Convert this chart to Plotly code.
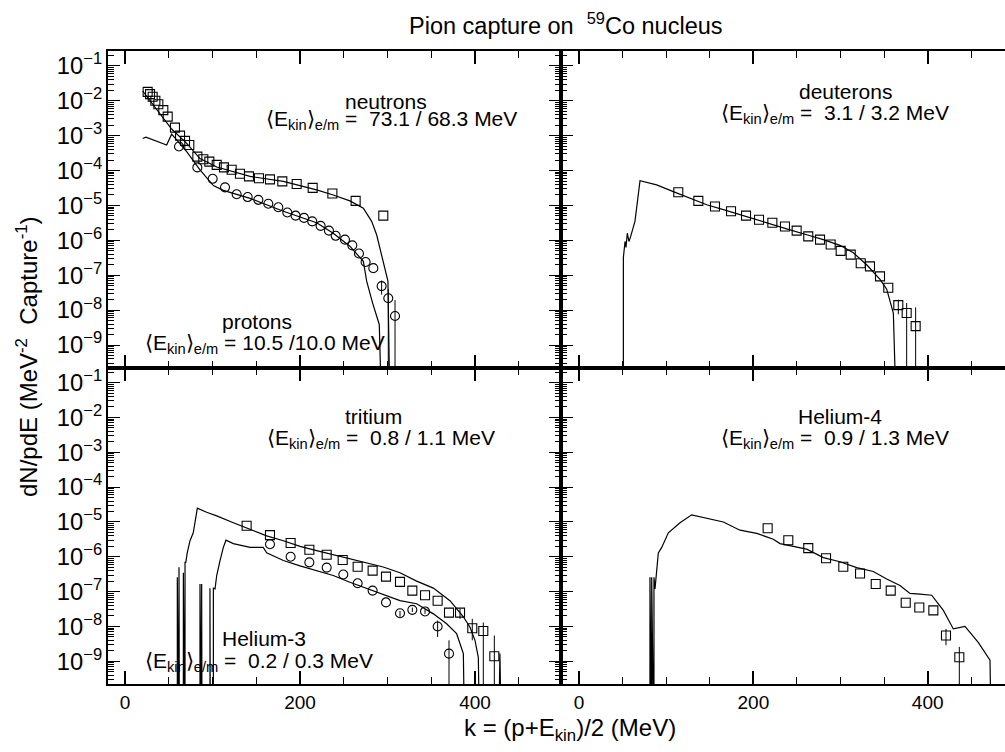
import plotly.graph_objects as go

W, H = 1005, 752
LOW = 1e-12  # stands for "below the axis" (line / error bar runs off the bottom)

# ---------------- data ----------------
# neutrons (top-left, squares) + MC
n_x = [25.9, 28.6, 31.6, 34.7, 38.1, 43.8, 48.8, 57.1, 62.9, 68.6, 73.5, 82.7, 89.5, 96.4,
       104.8, 113.1, 121.9, 131.4, 141.7, 153.1, 165.7, 179.8, 196.2, 214.5, 237.0, 263.6, 295.2]
n_y = [1.8e-2, 1.55e-2, 1.3e-2, 1.0e-2, 7.9e-3, 5.4e-3, 3.5e-3, 1.7e-3, 1.0e-3, 7.1e-4, 5.4e-4,
       2.5e-4, 2.1e-4, 1.8e-4, 1.45e-4, 1.23e-4, 1.05e-4, 8.1e-5, 6.8e-5, 6.0e-5, 5.6e-5, 4.9e-5,
       4.1e-5, 3.2e-5, 2.2e-5, 1.35e-5, 5.1e-6]
n_mc_x = [20.2, 53.3, 70.5, 85.7, 104.8, 142.9, 181.0, 219.0, 238.0, 257.0, 272.4, 281.9, 287.6,
          293.3, 299.0, 300.5, 303.5]
n_mc_y = [1.9e-2, 1.55e-3, 6.0e-4, 2.2e-4, 1.26e-4, 6.8e-5, 4.9e-5, 2.8e-5, 2.0e-5, 1.35e-5,
          8.3e-6, 3.5e-6, 1.45e-6, 3.9e-7, 1.05e-7, 6.8e-8, LOW]

# protons (top-left, circles) + MC
p_x = [61.7, 82.7, 100.2, 114.3, 127.6, 140.2, 152.4, 163.8, 175.2, 185.5, 195.0, 204.6, 214.0,
       223.6, 233.1, 240.8, 251.4, 259.8, 267.4, 275.0, 283.8, 293.3, 300.9, 308.6]
p_y = [4.9e-4, 1.23e-4, 5.8e-5, 3.3e-5, 2.1e-5, 1.74e-5, 1.45e-5, 1.12e-5, 8.9e-6, 6.3e-6, 5.1e-6,
       4.4e-6, 3.5e-6, 2.6e-6, 1.9e-6, 1.35e-6, 1.05e-6, 7.2e-7, 4.2e-7, 2.4e-7, 1.6e-7, 4.9e-8,
       2.2e-8, 6.8e-9]
p_hi = [None] * 21 + [7.1e-8, 4.0e-8, 1.95e-8]
p_lo = [None] * 21 + [2.8e-8, LOW, LOW]
p_mc_x = [20.2, 24.0, 47.6, 53.3, 70.5, 85.7, 101.0, 112.4, 142.9, 181.0, 219.0, 238.0, 257.0,
          272.4, 276.2, 283.0, 290.6, 294.5]
p_mc_y = [8.3e-4, 9.1e-4, 5.4e-4, 1.1e-3, 3.5e-4, 1.05e-4, 3.7e-5, 2.7e-5, 1.6e-5, 6.8e-6,
          3.2e-6, 1.6e-6, 6.8e-7, 2.5e-7, 6.8e-8, 1.6e-8, 3.9e-9, LOW]

# deuterons (top-right)
d_x = [113.9, 136.9, 156.0, 174.4, 191.6, 206.5, 221.8, 236.3, 249.7, 263.0, 276.5, 288.7, 300.2,
       311.7, 323.2, 333.8, 345.3, 354.8, 366.3, 375.9, 386.2]
d_y = [2.4e-5, 1.35e-5, 9.3e-6, 6.8e-6, 5.1e-6, 3.9e-6, 3.2e-6, 2.5e-6, 1.9e-6, 1.3e-6, 1.05e-6,
       7.6e-7, 5.0e-7, 3.9e-7, 2.2e-7, 1.8e-7, 9.3e-8, 4.4e-8, 1.4e-8, 8.3e-9, 3.5e-9]
d_hi = [None] * 18 + [2.0e-8, 1.6e-8, 1.2e-8]
d_lo = [None] * 18 + [7.6e-9, LOW, LOW]
d_mc_x = [50.9, 50.9, 52.8, 53.9, 55.4, 57.3, 59.3, 62.3, 64.2, 70.0, 89.1, 108.2, 127.3, 146.5,
          165.6, 184.7, 203.9, 222.9, 242.0, 261.2, 280.3, 299.4, 314.7, 330.0, 345.3, 353.0,
          360.6, 365.2]
d_mc_y = [LOW, 3.2e-7, 9.3e-7, 6.3e-7, 1.6e-6, 9.3e-7, 1.3e-6, 2.2e-6, 3.5e-6, 5.1e-5, 3.9e-5,
          2.5e-5, 1.6e-5, 1.05e-5, 7.6e-6, 5.4e-6, 3.9e-6, 2.8e-6, 2.0e-6, 1.45e-6, 1.05e-6,
          7.2e-7, 4.4e-7, 2.0e-7, 7.6e-8, 4.0e-8, 8.3e-9, LOW]

# tritium (bottom-left, squares) + MC
t_x = [139.0, 165.7, 189.3, 210.7, 230.5, 248.8, 265.9, 283.0, 298.3, 314.3, 328.4, 342.9, 357.3,
       370.3, 382.9, 396.9, 409.5, 422.1]
t_y = [7.8e-6, 4.2e-6, 2.5e-6, 1.6e-6, 1.15e-6, 8.1e-7, 5.2e-7, 4.0e-7, 2.7e-7, 1.9e-7, 1.07e-7,
       7.9e-8, 5.5e-8, 2.5e-8, 2.5e-8, 8.9e-9, 7.4e-9, 1.4e-9]
t_hi = [None] * 14 + [3.2e-8, 1.66e-8, 1.3e-8, 5.5e-9]
t_lo = [None] * 14 + [1.66e-8, 4.0e-9, LOW, LOW]
t_mc_x = [59.8, 59.8, 60.3, 61.7, 61.7, 62.2, 66.7, 66.7, 67.2, 68.6, 68.6, 69.5, 71.0, 74.3,
          78.0, 82.7, 93.3, 104.8, 123.8, 142.9, 161.9, 181.0, 200.0, 219.0, 238.0, 257.0, 276.0,
          295.2, 314.3, 333.3, 352.4, 371.4, 386.7, 394.3, 400.0, 403.8, 405.7, 426.5, 428.5, 430.5]
t_mc_y = [LOW, 2.6e-7, LOW, LOW, 5.0e-7, LOW, LOW, 3.5e-7, LOW, LOW, 6.9e-7, 6.9e-7, 1.26e-6,
          2.9e-6, 4.9e-6, 2.5e-5, 1.9e-5, 1.5e-5, 9.5e-6, 6.2e-6, 4.0e-6, 2.9e-6, 2.0e-6, 1.5e-6,
          1.15e-6, 8.9e-7, 6.9e-7, 5.1e-7, 3.5e-7, 2.0e-7, 1.26e-7, 5.5e-8, 1.9e-8, 9.5e-9,
          4.0e-9, 1.3e-9, LOW, LOW, 1.66e-9, LOW]

# helium-3 (bottom-left, circles) + MC
h3_x = [165.7, 189.3, 210.7, 230.5, 249.5, 265.9, 283.0, 298.3, 314.3, 328.4, 342.9, 357.3, 370.3]
h3_y = [2.3e-6, 1.0e-6, 6.9e-7, 4.9e-7, 3.1e-7, 1.74e-7, 1.07e-7, 4.9e-8, 2.4e-8, 3.0e-8, 2.7e-8,
        1.0e-8, 1.66e-9]
h3_hi = [None] * 8 + [2.8e-8, 3.5e-8, 3.1e-8, 1.48e-8, 4.0e-9]
h3_lo = [None] * 8 + [1.9e-8, 2.6e-8, 2.3e-8, 5.0e-9, LOW]
h3_mc_x = [85.7, 85.7, 86.2, 87.6, 87.6, 88.1, 97.1, 97.1, 97.6, 101.0, 101.0, 102.9, 104.8, 108.6,
           112.4, 115.4, 123.8, 142.9, 158.0, 161.9, 181.0, 200.0, 219.0, 238.0, 257.0, 276.0,
           295.2, 314.3, 333.3, 352.4, 367.6, 379.0, 386.7, 388.6]
h3_mc_y = [LOW, 1.66e-7, LOW, LOW, 1.66e-7, LOW, LOW, 1.26e-7, LOW, LOW, 1.26e-7, 1.2e-7, 2.9e-7,
           7.8e-7, 1.86e-6, 3.0e-6, 2.4e-6, 1.86e-6, 1.86e-6, 1.3e-6, 7.8e-7, 5.5e-7, 4.0e-7,
           2.9e-7, 1.86e-7, 1.26e-7, 8.5e-8, 5.5e-8, 4.5e-8, 2.3e-8, 1.2e-8, 6.2e-9, 1.66e-9, LOW]

# helium-4 (bottom-right)
a_x = [216.4, 240.1, 263.0, 283.4, 303.2, 322.4, 340.4, 357.6, 374.8, 390.4, 406.5, 421.0, 436.3]
a_y = [6.6e-6, 3.0e-6, 1.78e-6, 9.1e-7, 5.2e-7, 3.3e-7, 1.66e-7, 1.07e-7, 4.8e-8, 3.5e-8, 2.9e-8,
       5.5e-9, 1.3e-9]
a_hi = [None] * 11 + [8.5e-9, 2.6e-9]
a_lo = [None] * 11 + [2.9e-9, LOW]
a_mc_x = [81.4, 81.4, 81.9, 83.4, 83.4, 83.9, 86.0, 86.0, 87.2, 91.0, 94.9, 102.5, 115.9, 129.3,
          146.5, 165.6, 184.7, 203.9, 222.9, 230.6, 261.2, 280.3, 299.4, 318.6, 337.6, 353.0,
          368.2, 379.7, 391.2, 404.6, 418.0, 429.4, 442.8, 458.0, 471.5, 473.4]
a_mc_y = [LOW, 2.6e-7, LOW, LOW, 2.6e-7, LOW, LOW, 2.6e-7, 1.2e-7, 1.3e-6, 1.86e-6, 4.9e-6,
          9.5e-6, 1.6e-5, 1.3e-5, 1.0e-5, 5.8e-6, 4.7e-6, 3.2e-6, 2.4e-6, 1.66e-6, 9.5e-7,
          7.2e-7, 4.9e-7, 3.8e-7, 2.3e-7, 1.5e-7, 8.9e-8, 8.5e-8, 7.9e-8, 2.9e-8, 8.5e-9,
          1.0e-8, 3.5e-9, 1.07e-9, LOW]

x_ticks = [0, 200, 400]
x_tick_text = ["0", "200", "400"]

# ---------------- figure ----------------
FONT = "Liberation Sans, Arial, Helvetica, sans-serif"
fig = go.Figure()


def errs(y, hi, lo):
    plus = [(h - v) if h is not None else 0 for v, h in zip(y, hi)]
    minus = [(v - l) if l is not None else 0 for v, l in zip(y, lo)]
    return dict(type="data", symmetric=False, array=plus, arrayminus=minus,
                color="black", thickness=1, width=0)


def line(x, y, ax):
    fig.add_trace(go.Scatter(x=x, y=y, mode="lines", line=dict(color="black", width=1.2),
                             xaxis="x" + ax, yaxis="y" + ax, showlegend=False,
                             hoverinfo="skip"))


def pts(x, y, sym, ax, hi=None, lo=None):
    kw = {}
    if hi is not None:
        kw["error_y"] = errs(y, hi, lo)
    fig.add_trace(go.Scatter(x=x, y=y, mode="markers",
                             marker=dict(symbol=sym, size=9, color="black",
                                         line=dict(color="black", width=1.1)),
                             xaxis="x" + ax, yaxis="y" + ax, showlegend=False,
                             cliponaxis=True, **kw))


line(n_mc_x, n_mc_y, "")
line(p_mc_x, p_mc_y, "")
pts(n_x, n_y, "square-open", "")
pts(p_x, p_y, "circle-open", "", p_hi, p_lo)

line(d_mc_x, d_mc_y, "2")
pts(d_x, d_y, "square-open", "2", d_hi, d_lo)

line(t_mc_x, t_mc_y, "3")
line(h3_mc_x, h3_mc_y, "3")
pts(t_x, t_y, "square-open", "3", t_hi, t_lo)
pts(h3_x, h3_y, "circle-open", "3", h3_hi, h3_lo)

line(a_mc_x, a_mc_y, "4")
pts(a_x, a_y, "square-open", "4", a_hi, a_lo)

XL0, XMID, XR = 108 / W, 561 / W, 1.0
YT, YMID, YB = 1 - 49.3 / H, 1 - 367 / H, 1 - 684 / H
XR_LEFT = [-19.43, 498.3]
XR_RIGHT = [-20.65, 488.7]
YR = [-9.657, -0.58]


def xax(dom, rng, labels, anchor):
    return dict(domain=dom, range=rng, anchor=anchor, showgrid=False, zeroline=False,
                showline=True, linecolor="black", linewidth=2, mirror="ticks",
                ticks="inside", ticklen=13, tickwidth=1.5, tickcolor="black",
                tickvals=x_ticks, ticktext=x_tick_text, showticklabels=labels,
                tickfont=dict(family=FONT, size=19, color="black"),
                minor=dict(ticks="inside", ticklen=7, tickwidth=1, tickcolor="black",
                           dtick=50, tick0=0))


def yax(dom, labels, anchor, mirror):
    return dict(domain=dom, range=YR, type="log", anchor=anchor, showgrid=False,
                zeroline=False, showline=True, linecolor="black", linewidth=2,
                mirror=mirror, ticks="inside", ticklen=12, tickwidth=1.2,
                tickcolor="black", dtick=1, exponentformat="power",
                showticklabels=labels,
                tickfont=dict(family=FONT, size=19, color="black"),
                minor=dict(ticks="inside", ticklen=6, tickwidth=1, tickcolor="black",
                           dtick="D1"))


fig.update_layout(
    width=W, height=H, margin=dict(l=0, r=0, t=0, b=0),
    paper_bgcolor="white", plot_bgcolor="white",
    font=dict(family=FONT, size=20, color="black"),
    xaxis=xax([XL0, XMID], XR_LEFT, False, "y"),
    yaxis=yax([YMID, YT], True, "x", "ticks"),
    xaxis2=xax([XMID, XR], XR_RIGHT, False, "y2"),
    yaxis2=yax([YMID, YT], False, "x2", False),
    xaxis3=xax([XL0, XMID], XR_LEFT, True, "y3"),
    yaxis3=yax([YB, YMID], True, "x3", "ticks"),
    xaxis4=xax([XMID, XR], XR_RIGHT, True, "y4"),
    yaxis4=yax([YB, YMID], False, "x4", False),
)

ann = []


def txt(s, px, py, size=20, xanchor="center", angle=0):
    ann.append(dict(text=s, x=px / W, y=1 - py / H, xref="paper", yref="paper",
                    xanchor=xanchor, yanchor="middle", showarrow=False, textangle=angle,
                    font=dict(family=FONT, size=size, color="black")))


EK = "\u27e8E<sub>kin</sub>\u27e9<sub>e/m</sub>"
txt("Pion capture on  <sup>59</sup>Co nucleus", 566, 22, 23.5)
txt("neutrons", 386, 100, 21)
txt(EK + " =  73.1 / 68.3 MeV", 391, 118, 21)
txt("deuterons", 845, 90, 21)
txt(EK + " =  3.1 / 3.2 MeV", 835, 112, 21)
txt("protons", 257, 320, 21)
txt(EK + " = 10.5 /10.0 MeV", 265, 343, 21)
txt("tritium", 373, 416, 21)
txt(EK + " =  0.8 / 1.1 MeV", 381, 438, 21)
txt("Helium-4", 840, 416, 21)
txt(EK + " =  0.9 / 1.3 MeV", 835, 438, 21)
txt("Helium-3", 264, 638, 21)
txt(EK + " =  0.2 / 0.3 MeV", 259, 662, 21)
txt("k = (p+E<sub>kin</sub>)/2 (MeV)", 570, 729, 24)
txt("dN/pdE (MeV<sup>-2</sup>  Capture<sup>-1</sup>)", 27, 356, 24, angle=-90)
fig.update_layout(annotations=ann)

fig.write_html("out.html",
               config={"displayModeBar": False},
               post_script="document.body.style.margin='0';"
                           "document.body.style.overflow='hidden';")
